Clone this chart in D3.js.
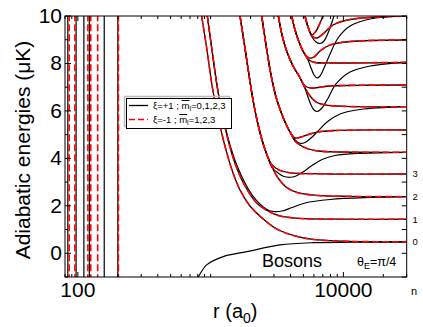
<!DOCTYPE html>
<html>
<head>
<meta charset="utf-8">
<script src="https://cdn.jsdelivr.net/npm/d3@7"></script>
<style>
  body { margin: 0; background: #fff; }
  svg { font-family: "Liberation Sans", Arial, sans-serif; }
</style>
</head>
<body>
<div id="chart"></div>
<script>
// r in a0, energies in microK
var xTickLabels = [100, 10000];
var yTickLabels = [0, 2, 4, 6, 8, 10];
var nLabels = [0, 1, 2, 3];
var nLevels = [0.489, 1.433, 2.385, 3.342];

// steep repulsive curves at short range
var leftBlackR = [84, 97, 111, 122, 158, 200];
var leftRedR = [86, 95, 119, 125, 141, 202];

// xi=+1, m=0 bound curve ("Bosons")
var bosonCurve = [[762, -1.17], [808, -0.99], [933, -0.49], [1246, -0.14], [1870, 0.067],
  [3332, 0.35], [5940, 0.447], [11830, 0.464], [30000, 0.47]];

// shared steep parts of each bundle
var stemA = [[944, 10], [1024, 8.567], [1116, 7.092], [1197, 6.123]];
var stemB = [[1665, 10], [1800, 8.778], [1946, 7.514], [2086, 6.46], [2236, 5.617], [2439, 4.775], [2660, 4.142]];
var stemC = [[2426, 10], [2614, 8.778], [2851, 7.514], [3109, 6.587], [3391, 5.954], [3635, 5.533], [3964, 5.112]];
var stemD = [[3236, 10], [3450, 9.2], [3763, 8.483], [4176, 7.893], [4635, 7.472]];
var stemE = [[4083, 10], [4324, 9.41], [4635, 8.904], [5055, 8.441]];
var stemF = [[5143, 10], [5418, 9.536]];

// curves where xi=+1 and xi=-1 coincide, one per threshold n
var pairCurves = [
  [[856, 10], [939, 8.567], [1024, 7.092], [1107, 6.039], [1197, 5.196], [1306, 4.353], [1449, 3.51], [1665, 2.667], [1980, 1.993], [2439, 1.488], [3147, 1.024], [4324, 0.729], [5910, 0.582], [11232, 0.501], [29700, 0.489]],
  stemA.concat([[1283, 5.322], [1399, 4.48], [1553, 3.679], [1784, 2.92], [2224, 2.12], [2707, 1.783], [3333, 1.572], [4716, 1.467], [9443, 1.437], [29700, 1.433]]),
  stemB.concat([[2901, 3.637], [3219, 3.173], [3699, 2.794], [4477, 2.562], [6118, 2.444], [11232, 2.398], [29700, 2.385]]),
  stemB.concat([[2901, 3.721], [3275, 3.51], [3964, 3.392], [6673, 3.35], [29700, 3.342]]),
  stemC.concat([[4324, 4.733], [4716, 4.564], [5325, 4.416], [6446, 4.311], [9443, 4.269], [29700, 4.256]]),
  stemC.concat([[4324, 4.859], [4798, 4.901], [5325, 4.985], [6446, 5.112], [8657, 5.175], [29700, 5.196]]),
  stemD.concat([[5143, 6.966], [5610, 6.629], [6226, 6.376], [7279, 6.25], [10299, 6.19], [29700, 6.178]]),
  stemD.concat([[5143, 7.05], [5708, 6.966], [6446, 6.987], [7938, 7.05], [29700, 7.092]]),
  stemE.concat([[5513, 8.146], [6118, 8.04], [7938, 8.02], [29700, 8.049]]),
  stemE.concat([[5513, 8.23], [6013, 8.272], [6673, 8.525], [7938, 8.778], [11232, 8.926], [29700, 8.989]]),
  stemF.concat([[5808, 9.157], [6335, 9.073], [7030, 9.242], [8362, 9.621], [11232, 9.853], [29700, 10.0]]),
  stemF.concat([[5808, 9.2], [6226, 9.368], [6673, 9.705], [7153, 10.126]])
];

// xi=+1, m=0 curves: leave a bundle, dip, then rise to the even thresholds
var dipCurves = [
  stemA.concat([[1283, 5.364], [1399, 4.564], [1553, 3.805], [1723, 3.215], [1922, 2.71], [2197, 2.246], [2494, 1.951], [2754, 1.804], [3056, 1.753], [3450, 1.783], [4105, 1.93], [5143, 2.12], [7938, 2.267], [15896, 2.351], [29700, 2.385]]),
  stemB.concat([[2901, 3.616], [3219, 3.384], [3572, 3.236], [3964, 3.203], [4400, 3.257], [4968, 3.426], [5808, 3.7], [6909, 3.953], [8657, 4.121], [13362, 4.214], [29700, 4.256]]),
  stemC.concat([[4324, 4.775], [4716, 4.636], [5143, 4.669], [5708, 4.859], [6446, 5.154], [7535, 5.533], [9443, 5.87], [13362, 6.06], [29700, 6.178]]),
  stemD.concat([[5055, 7.05], [5418, 6.587], [5708, 6.25], [6013, 6.039], [6335, 5.976], [6790, 6.081], [7535, 6.46], [8809, 7.135], [11232, 7.64], [15896, 7.893], [29700, 8.049]]),
  stemE.concat([[5418, 8.146], [5708, 7.809], [6013, 7.514], [6335, 7.388], [6673, 7.472], [7153, 7.809], [7938, 8.399], [9119, 9.073], [11232, 9.579], [15896, 9.874], [29700, 10.0]]),
  stemF.concat([[5808, 9.115], [6226, 8.904], [6673, 8.841], [7153, 8.947], [7667, 9.284], [8218, 9.747], [8657, 10.169]])
];

var width = 423, height = 327;
var m = {left: 65, right: 406.7, top: 16, bottom: 277};

var svg = d3.select("#chart").append("svg")
  .attr("width", width)
  .attr("height", height);

var x = d3.scaleLog().domain([80, 30000]).range([m.left, m.right]);
var y = d3.scaleLinear().domain([-1, 10]).range([m.bottom, m.top]);

svg.append("clipPath").attr("id", "plot")
  .append("rect")
  .attr("x", m.left).attr("y", m.top)
  .attr("width", m.right - m.left).attr("height", m.bottom - m.top);

var g = svg.append("g").attr("clip-path", "url(#plot)");

var line = d3.line()
  .x(function (d) { return x(d[0]); })
  .y(function (d) { return y(d[1]); })
  .curve(d3.curveCatmullRom.alpha(0.5));

function vertical(r) { return [[r, 10.5], [r, -1.5]]; }

// black solid first, red dashed on top
g.selectAll(".left-black").data(leftBlackR).enter().append("path")
  .attr("d", function (d) { return line(vertical(d)); })
  .attr("fill", "none").attr("stroke", "#000").attr("stroke-width", 1.2);

g.selectAll(".pair-black").data(pairCurves).enter().append("path")
  .attr("d", line)
  .attr("fill", "none").attr("stroke", "#000").attr("stroke-width", 1.3);

g.selectAll(".dip").data(dipCurves).enter().append("path")
  .attr("d", line)
  .attr("fill", "none").attr("stroke", "#000").attr("stroke-width", 1.2);

g.append("path").datum(bosonCurve)
  .attr("d", line)
  .attr("fill", "none").attr("stroke", "#000").attr("stroke-width", 1.2);

g.selectAll(".left-red").data(leftRedR).enter().append("path")
  .attr("d", function (d) { return line(vertical(d)); })
  .attr("fill", "none").attr("stroke", "#f00").attr("stroke-width", 1.6)
  .attr("stroke-dasharray", "7,3");

g.selectAll(".pair-red").data(pairCurves).enter().append("path")
  .attr("d", line)
  .attr("fill", "none").attr("stroke", "#f00").attr("stroke-width", 1.6)
  .attr("stroke-dasharray", "7,3");

// frame
svg.append("rect")
  .attr("x", m.left).attr("y", m.top)
  .attr("width", m.right - m.left).attr("height", m.bottom - m.top)
  .attr("fill", "none").attr("stroke", "#000").attr("stroke-width", 1);

// log ticks on bottom and top, pointing inward
var xTicks = x.ticks();
svg.selectAll(".xt").data(xTicks).enter().append("line")
  .attr("x1", function (d) { return x(d); }).attr("x2", function (d) { return x(d); })
  .attr("y1", m.bottom)
  .attr("y2", function (d) { return m.bottom - (xTickLabels.indexOf(d) >= 0 ? 5 : 3); })
  .attr("stroke", "#000");
svg.selectAll(".xtt").data(xTicks).enter().append("line")
  .attr("x1", function (d) { return x(d); }).attr("x2", function (d) { return x(d); })
  .attr("y1", m.top)
  .attr("y2", function (d) { return m.top + (xTickLabels.indexOf(d) >= 0 ? 5 : 3); })
  .attr("stroke", "#000");

svg.selectAll(".xl").data(xTickLabels).enter().append("text")
  .attr("x", function (d) { return x(d); })
  .attr("y", 297)
  .attr("text-anchor", "middle")
  .attr("font-size", 21)
  .text(function (d) { return d; });

var yTicks = d3.range(-1, 11);
svg.selectAll(".yt").data(yTicks).enter().append("line")
  .attr("x1", m.left)
  .attr("x2", function (d) { return m.left + (d % 2 === 0 ? 6 : 3); })
  .attr("y1", function (d) { return y(d); }).attr("y2", function (d) { return y(d); })
  .attr("stroke", "#000");
svg.selectAll(".ytr").data(yTicks).enter().append("line")
  .attr("x1", m.right)
  .attr("x2", m.right - 5)
  .attr("y1", function (d) { return y(d); }).attr("y2", function (d) { return y(d); })
  .attr("stroke", "#000");

svg.selectAll(".yl").data(yTickLabels).enter().append("text")
  .attr("x", 62)
  .attr("y", function (d) { return y(d) + 7; })
  .attr("text-anchor", "end")
  .attr("font-size", 21)
  .text(function (d) { return d; });

// n labels on the right
svg.selectAll(".nl").data(nLabels).enter().append("text")
  .attr("x", 412.5)
  .attr("y", function (d, i) { return y(nLevels[i]) + 3.5; })
  .attr("font-size", 9.5)
  .text(function (d) { return d; });
svg.append("text").attr("x", 411).attr("y", 295).attr("font-size", 11).text("n");

// axis titles
svg.append("text")
  .attr("transform", "translate(30,150) rotate(-90)")
  .attr("text-anchor", "middle")
  .attr("font-size", 21)
  .text("Adiabatic energies (\u03bcK)");

var xt = svg.append("text").attr("x", 213).attr("y", 318).attr("font-size", 20);
xt.append("tspan").text("r (a");
xt.append("tspan").attr("font-size", 14).attr("dy", 5).text("0");
xt.append("tspan").attr("dy", -5).text(")");

svg.append("text").attr("x", 262).attr("y", 267).attr("font-size", 18).text("Bosons");
var th = svg.append("text").attr("x", 357).attr("y", 266).attr("font-size", 12.5);
th.append("tspan").text("\u03b8");
th.append("tspan").attr("font-size", 9).attr("dy", 3).text("E");
th.append("tspan").attr("dy", -3).text("=\u03c0/4");

// legend
var lg = svg.append("g");
lg.append("rect").attr("x", 124.5).attr("y", 96.5).attr("width", 105).attr("height", 30)
  .attr("fill", "none").attr("stroke", "#bbb").attr("stroke-width", 1.5);
lg.append("rect").attr("x", 126.5).attr("y", 98.5).attr("width", 105).attr("height", 30)
  .attr("fill", "#fff").attr("stroke", "#000").attr("stroke-width", 1);
lg.append("line").attr("x1", 129).attr("x2", 148).attr("y1", 105.5).attr("y2", 105.5)
  .attr("stroke", "#000").attr("stroke-width", 1.3);
lg.append("line").attr("x1", 129).attr("x2", 148).attr("y1", 119.5).attr("y2", 119.5)
  .attr("stroke", "#f00").attr("stroke-width", 1.6).attr("stroke-dasharray", "6,3");

function legendText(yPos, xi, ms) {
  var t = lg.append("text").attr("x", 153).attr("y", yPos).attr("font-size", 9.5);
  t.append("tspan").text("\u03be=" + xi + " ; ");
  t.append("tspan").attr("text-decoration", "overline").text("m");
  t.append("tspan").attr("font-size", 7).attr("dy", 2).text("l");
  t.append("tspan").attr("dy", -2).text("=" + ms);
}
legendText(109, "+1", "0,1,2,3");
legendText(123, "-1 ", "1,2,3");
</script>
</body>
</html>
